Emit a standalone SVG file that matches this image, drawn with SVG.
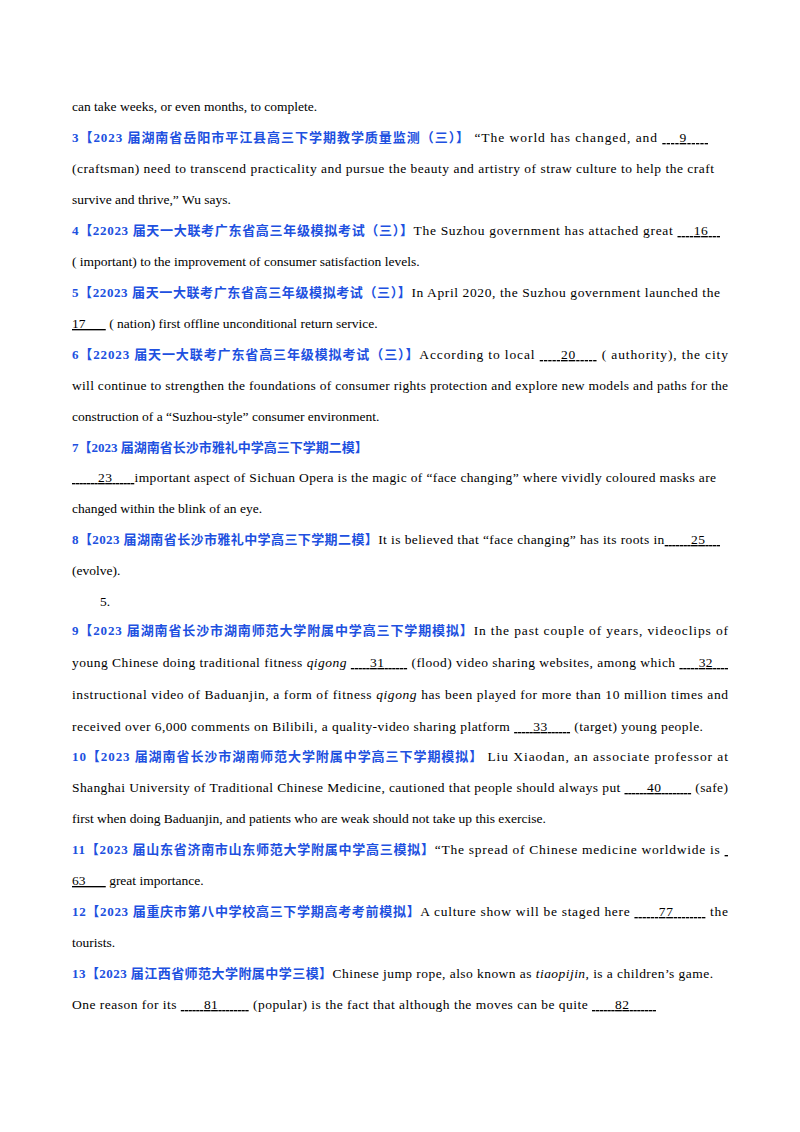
<svg xmlns="http://www.w3.org/2000/svg" width="800" height="1132" viewBox="0 0 800 1132">
<style>
text{font-family:"Liberation Serif","Noto Sans CJK SC",serif;font-size:13.5px;fill:#000}
.b{fill:#2050e0;font-weight:bold;font-size:13px}
.u{text-decoration:underline}
</style>
<rect width="800" height="1132" fill="#fff"/>
<g id="text">
<text x="72" y="111">can take weeks, or even months, to complete.</text>
<text x="72" y="142" textLength="636" lengthAdjust="spacing"><tspan class="b">3【2023 届湖南省岳阳市平江县高三下学期教学质量监测（三）】</tspan> “The world has changed, and <tspan class="u">&#160;&#160;&#160;&#160;9&#160;&#160;&#160;&#160;&#160;</tspan></text>
<text x="72" y="173" textLength="642" lengthAdjust="spacing">(craftsman) need to transcend practicality and pursue the beauty and artistry of straw culture to help the craft</text>
<text x="72" y="204">survive and thrive,” Wu says.</text>
<text x="72" y="235" textLength="648" lengthAdjust="spacing"><tspan class="b">4【22023 届天一大联考广东省高三年级模拟考试（三）】</tspan>The Suzhou government has attached great <tspan class="u">&#160;&#160;&#160;&#160;16&#160;&#160;&#160;</tspan></text>
<text x="72" y="266">( important) to the improvement of consumer satisfaction levels.</text>
<text x="72" y="297" textLength="648" lengthAdjust="spacing"><tspan class="b">5【22023 届天一大联考广东省高三年级模拟考试（三）】</tspan>In April 2020, the Suzhou government launched the</text>
<text x="72" y="328"><tspan class="u">17&#160;&#160;&#160;&#160;&#160;&#160;</tspan> ( nation) first offline unconditional return service.</text>
<text x="72" y="359" textLength="656" lengthAdjust="spacing"><tspan class="b">6【22023 届天一大联考广东省高三年级模拟考试（三）】</tspan>According to local <tspan class="u">&#160;&#160;&#160;&#160;&#160;20&#160;&#160;&#160;&#160;&#160;</tspan> ( authority), the city</text>
<text x="72" y="390" textLength="656" lengthAdjust="spacing">will continue to strengthen the foundations of consumer rights protection and explore new models and paths for the</text>
<text x="72" y="421">construction of a “Suzhou-style” consumer environment.</text>
<text x="72" y="452" class="b">7【2023 届湖南省长沙市雅礼中学高三下学期二模】</text>
<text x="72" y="482" textLength="644" lengthAdjust="spacing"><tspan class="u">&#160;&#160;&#160;&#160;&#160;&#160;&#160;23&#160;&#160;&#160;&#160;&#160;&#160;</tspan>important aspect of Sichuan Opera is the magic of “face changing” where vividly coloured masks are</text>
<text x="72" y="513">changed within the blink of an eye.</text>
<text x="72" y="544" textLength="648" lengthAdjust="spacing"><tspan class="b">8【2023 届湖南省长沙市雅礼中学高三下学期二模】</tspan>It is believed that “face changing” has its roots in<tspan class="u">&#160;&#160;&#160;&#160;&#160;&#160;&#160;25&#160;&#160;&#160;&#160;</tspan></text>
<text x="72" y="575">(evolve).</text>
<text x="100" y="606">5.</text>
<text x="72" y="635" textLength="656" lengthAdjust="spacing"><tspan class="b">9【2023 届湖南省长沙市湖南师范大学附属中学高三下学期模拟】</tspan>In the past couple of years, videoclips of</text>
<text x="72" y="667" textLength="656" lengthAdjust="spacing">young Chinese doing traditional fitness <tspan font-style="italic">qigong</tspan> <tspan class="u">&#160;&#160;&#160;&#160;&#160;31&#160;&#160;&#160;&#160;&#160;&#160;</tspan> (flood) video sharing websites, among which <tspan class="u">&#160;&#160;&#160;&#160;&#160;32&#160;&#160;&#160;&#160;</tspan></text>
<text x="72" y="699" textLength="656" lengthAdjust="spacing">instructional video of Baduanjin, a form of fitness <tspan font-style="italic">qigong</tspan> has been played for more than 10 million times and</text>
<text x="72" y="731" textLength="631" lengthAdjust="spacing">received over 6,000 comments on Bilibili, a quality-video sharing platform <tspan class="u">&#160;&#160;&#160;&#160;&#160;33&#160;&#160;&#160;&#160;&#160;&#160;</tspan> (target) young people.</text>
<text x="72" y="761" textLength="656" lengthAdjust="spacing"><tspan class="b">10【2023 届湖南省长沙市湖南师范大学附属中学高三下学期模拟】</tspan> Liu Xiaodan, an associate professor at</text>
<text x="72" y="792" textLength="656" lengthAdjust="spacing">Shanghai University of Traditional Chinese Medicine, cautioned that people should always put <tspan class="u">&#160;&#160;&#160;&#160;&#160;&#160;40&#160;&#160;&#160;&#160;&#160;&#160;&#160;&#160;</tspan> (safe)</text>
<text x="72" y="823">first when doing Baduanjin, and patients who are weak should not take up this exercise.</text>
<text x="72" y="854" textLength="656" lengthAdjust="spacing"><tspan class="b">11【2023 届山东省济南市山东师范大学附属中学高三模拟】</tspan>“The spread of Chinese medicine worldwide is <tspan class="u">&#160;</tspan></text>
<text x="72" y="885"><tspan class="u">63&#160;&#160;&#160;&#160;&#160;&#160;</tspan> great importance.</text>
<text x="72" y="916" textLength="656" lengthAdjust="spacing"><tspan class="b">12【2023 届重庆市第八中学校高三下学期高考考前模拟】</tspan>A culture show will be staged here <tspan class="u">&#160;&#160;&#160;&#160;&#160;&#160;77&#160;&#160;&#160;&#160;&#160;&#160;&#160;&#160;</tspan> the</text>
<text x="72" y="947">tourists.</text>
<text x="72" y="978" textLength="641" lengthAdjust="spacing"><tspan class="b">13【2023 届江西省师范大学附属中学三模】</tspan>Chinese jump rope, also known as <tspan font-style="italic">tiaopijin</tspan>, is a children’s game.</text>
<text x="72" y="1009" textLength="584" lengthAdjust="spacing">One reason for its <tspan class="u">&#160;&#160;&#160;&#160;&#160;&#160;81&#160;&#160;&#160;&#160;&#160;&#160;&#160;&#160;</tspan> (popular) is the fact that although the moves can be quite <tspan class="u">&#160;&#160;&#160;&#160;&#160;&#160;82&#160;&#160;&#160;&#160;&#160;&#160;&#160;</tspan></text>
</g>
</svg>
